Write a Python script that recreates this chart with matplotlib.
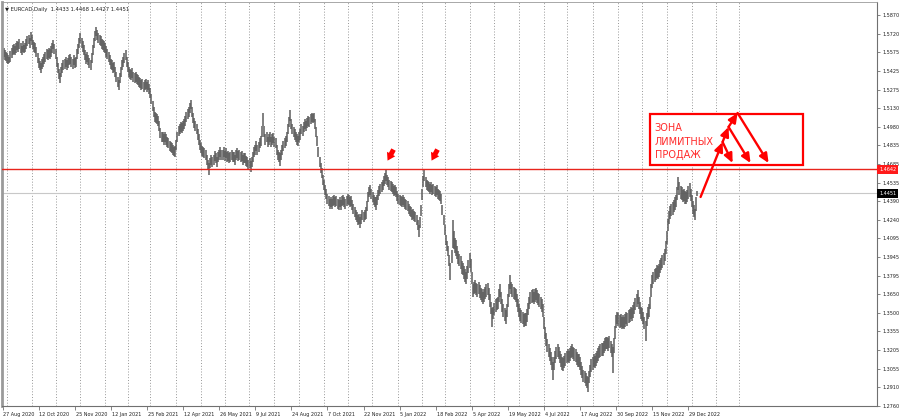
import numpy as np
import pandas as pd
import matplotlib
matplotlib.use("Agg")
import matplotlib.pyplot as plt
from matplotlib.patches import Rectangle
import matplotlib.transforms as mtransforms

# ---------------- data ----------------
symbol = "EURCAD,Daily"
last_ohlc = ["1.4433", "1.4468", "1.4427", "1.4451"]
start_date = "2020-08-27"
holidays = ["2020-12-25", "2021-01-01"]

# daily lows / highs in units of 0.0001 above 1.0000
lows_pips = [
5520,5535,5510,5505,5490,5480,5489,5500,5530,5555,
5560,5550,5570,5590,5580,5600,5570,5555,5580,5565,
5575,5600,5620,5640,5610,5660,5630,5600,5580,5570,
5540,5490,5450,5430,5409,5440,5460,5480,5500,5520,
5510,5530,5520,5540,5570,5600,5560,5520,5460,5410,
5360,5330,5380,5410,5430,5440,5460,5430,5450,5470,
5480,5460,5440,5470,5450,5460,5520,5560,5610,5650,
5610,5580,5550,5510,5480,5500,5470,5450,5433,5490,
5550,5610,5660,5700,5670,5650,5630,5620,5600,5590,
5580,5570,5540,5520,5500,5470,5440,5430,5410,5420,
5380,5340,5300,5274,5330,5380,5430,5460,5490,5510,
5460,5420,5380,5360,5350,5370,5340,5330,5340,5320,
5310,5300,5290,5270,5280,5260,5270,5280,5260,5270,
5240,5210,5160,5110,5060,5020,5010,5000,4990,4950,
4890,4860,4860,4840,4860,4840,4820,4810,4790,4780,
4770,4760,4745,4740,4800,4860,4910,4920,4940,4930,
4950,4960,4990,5020,5040,5060,5090,5120,5060,5010,
4970,4950,4920,4880,4840,4800,4770,4750,4740,4730,
4720,4680,4640,4598,4650,4680,4660,4680,4710,4690,
4660,4700,4720,4740,4720,4720,4740,4710,4730,4700,
4710,4690,4700,4720,4700,4700,4680,4720,4730,4710,
4720,4700,4710,4680,4690,4690,4670,4660,4640,4650,
4625,4660,4700,4740,4760,4790,4760,4780,4810,4830,
4900,4990,4900,4840,4860,4820,4840,4860,4820,4840,
4850,4820,4810,4760,4720,4700,4670,4720,4760,4790,
4810,4830,4860,4920,4980,5030,4960,4920,4900,4880,
4860,4840,4830,4860,4880,4920,4910,4940,4960,4950,
4970,4990,4980,5000,5020,5010,5020,4960,4900,4830,
4740,4660,4610,4570,4520,4480,4440,4410,4370,4350,
4330,4340,4330,4350,4360,4340,4350,4330,4320,4340,
4320,4350,4360,4340,4330,4350,4370,4360,4340,4350,
4320,4290,4260,4240,4220,4200,4210,4176,4210,4240,
4220,4240,4250,4310,4380,4420,4440,4410,4380,4360,
4340,4320,4360,4400,4430,4450,4460,4480,4510,4530,
4550,4520,4500,4480,4470,4460,4450,4430,4440,4420,
4390,4370,4360,4350,4340,4360,4340,4330,4320,4310,
4290,4270,4260,4240,4250,4230,4220,4200,4160,4104,
4180,4270,4400,4500,4550,4500,4480,4470,4460,4450,
4460,4440,4450,4430,4420,4440,4410,4400,4390,4370,
4280,4200,4120,4040,3990,3950,3870,3762,3900,4020,
4010,3980,3950,3930,3890,3870,3850,3810,3800,3770,
3750,3730,3770,3820,3860,3830,3730,3630,3650,3660,
3640,3630,3650,3620,3600,3590,3570,3590,3610,3630,
3640,3600,3550,3490,3390,3450,3480,3510,3520,3530,
3590,3630,3570,3510,3470,3440,3410,3470,3550,3630,
3690,3650,3630,3610,3600,3590,3550,3510,3470,3440,
3420,3410,3390,3400,3400,3430,3480,3530,3570,3580,
3590,3570,3590,3600,3580,3560,3550,3530,3510,3470,
3370,3290,3240,3190,3150,3120,3090,3050,2967,3050,
3100,3130,3150,3130,3100,3070,3050,3040,3060,3080,
3100,3110,3100,3120,3140,3150,3130,3120,3110,3090,
3070,3070,3050,3010,2980,2950,2940,2920,2900,2871,
2940,2990,3030,3050,3070,3060,3080,3100,3120,3140,
3150,3160,3160,3180,3200,3210,3210,3200,3220,3180,
3150,3020,3180,3290,3380,3410,3400,3380,3390,3370,
3380,3370,3390,3410,3400,3420,3430,3450,3440,3460,
3490,3520,3550,3570,3530,3490,3450,3440,3410,3370,
3280,3400,3450,3470,3530,3630,3700,3730,3750,3760,
3780,3770,3790,3820,3840,3860,3880,3910,3970,4050,
4150,4210,4250,4270,4280,4300,4320,4340,4400,4480,
4440,4410,4400,4380,4390,4370,4370,4380,4410,4420,
4390,4340,4290,4260,4240,4310,4427,
]
highs_pips = [
5600,5610,5590,5580,5565,5550,5540,5585,5610,5630,
5640,5625,5650,5660,5655,5680,5645,5625,5660,5635,
5645,5680,5700,5715,5690,5735,5710,5675,5655,5645,
5615,5570,5530,5505,5490,5520,5540,5560,5580,5600,
5590,5610,5600,5620,5650,5672,5640,5600,5540,5490,
5440,5410,5460,5490,5510,5520,5540,5510,5530,5550,
5560,5540,5520,5550,5530,5540,5600,5640,5690,5727,
5690,5660,5630,5590,5560,5580,5550,5530,5510,5570,
5630,5690,5740,5775,5750,5730,5710,5700,5680,5670,
5660,5650,5620,5600,5580,5550,5520,5510,5490,5500,
5460,5420,5380,5350,5410,5460,5510,5540,5570,5592,
5540,5500,5460,5440,5430,5450,5420,5410,5420,5400,
5390,5380,5370,5350,5360,5340,5350,5360,5340,5350,
5320,5290,5240,5190,5140,5100,5090,5080,5070,5030,
4970,4940,4940,4920,4940,4920,4900,4890,4870,4860,
4850,4840,4820,4830,4880,4940,4990,5000,5020,5010,
5030,5040,5070,5100,5120,5140,5170,5194,5140,5090,
5050,5030,5000,4960,4920,4880,4850,4830,4820,4810,
4800,4760,4720,4690,4730,4760,4740,4760,4790,4770,
4740,4780,4800,4820,4800,4800,4820,4790,4810,4780,
4790,4770,4780,4800,4780,4780,4760,4800,4810,4790,
4800,4780,4790,4760,4770,4770,4750,4740,4720,4730,
4710,4740,4780,4820,4840,4870,4840,4860,4890,4910,
4990,5091,4990,4920,4940,4900,4920,4940,4900,4920,
4930,4900,4890,4840,4800,4780,4770,4800,4840,4870,
4890,4910,4940,5000,5060,5115,5040,5000,4980,4960,
4940,4920,4910,4940,4960,5000,4990,5020,5040,5030,
5050,5070,5060,5080,5090,5085,5090,5040,4980,4910,
4820,4740,4690,4650,4600,4560,4520,4490,4450,4430,
4410,4420,4410,4430,4440,4420,4430,4410,4400,4420,
4400,4430,4440,4420,4410,4430,4450,4440,4420,4430,
4400,4370,4340,4320,4300,4280,4290,4260,4290,4320,
4300,4320,4340,4390,4460,4500,4520,4490,4460,4440,
4420,4420,4440,4480,4510,4530,4540,4560,4590,4610,
4637,4600,4580,4560,4550,4540,4530,4510,4520,4500,
4470,4450,4440,4430,4420,4440,4420,4410,4400,4390,
4370,4350,4340,4320,4330,4310,4300,4280,4240,4200,
4260,4360,4490,4590,4637,4580,4560,4550,4540,4530,
4540,4520,4530,4510,4500,4520,4490,4480,4470,4450,
4360,4280,4200,4120,4070,4030,3960,3900,4000,4240,
4150,4100,4080,4030,3990,3970,3950,3910,3900,3870,
3850,3830,3870,3920,3980,3930,3830,3730,3750,3760,
3740,3730,3750,3720,3700,3690,3670,3690,3710,3730,
3740,3700,3650,3590,3540,3550,3580,3610,3620,3630,
3690,3730,3670,3610,3570,3540,3520,3570,3650,3730,
3802,3750,3730,3710,3700,3690,3650,3610,3570,3540,
3520,3510,3490,3500,3500,3530,3580,3630,3670,3680,
3690,3670,3690,3700,3680,3660,3650,3630,3610,3570,
3470,3390,3340,3290,3250,3220,3190,3150,3110,3150,
3200,3230,3250,3230,3200,3170,3150,3140,3160,3180,
3200,3210,3200,3220,3240,3250,3230,3220,3210,3190,
3170,3170,3150,3110,3080,3050,3040,3020,3000,2990,
3040,3090,3130,3150,3170,3160,3180,3200,3220,3240,
3250,3260,3260,3280,3300,3310,3310,3300,3320,3280,
3250,3230,3300,3400,3480,3510,3500,3480,3490,3470,
3480,3470,3490,3510,3500,3520,3530,3550,3540,3560,
3590,3620,3650,3683,3630,3590,3550,3540,3510,3470,
3440,3500,3550,3570,3630,3730,3800,3830,3850,3860,
3880,3870,3890,3920,3940,3960,3980,4010,4070,4150,
4250,4310,4350,4370,4380,4400,4420,4440,4500,4582,
4540,4510,4500,4480,4490,4470,4460,4480,4510,4535,
4490,4440,4390,4360,4330,4420,4468,
]

x_tick_labels = ["27 Aug 2020", "12 Oct 2020", "25 Nov 2020", "12 Jan 2021",
                 "25 Feb 2021", "12 Apr 2021", "26 May 2021", "9 Jul 2021",
                 "24 Aug 2021", "7 Oct 2021", "22 Nov 2021", "5 Jan 2022",
                 "18 Feb 2022", "5 Apr 2022", "19 May 2022", "4 Jul 2022",
                 "17 Aug 2022", "30 Sep 2022", "15 Nov 2022", "29 Dec 2022"]
y_tick_labels = ["1.5870", "1.5720", "1.5575", "1.5425", "1.5275", "1.5130",
                 "1.4980", "1.4835", "1.4685", "1.4535", "1.4390", "1.4240",
                 "1.4095", "1.3945", "1.3795", "1.3650", "1.3500", "1.3355",
                 "1.3205", "1.3055", "1.2910", "1.2760"]

resistance = 1.4642
last_price = 1.4451
zone_text = "ЗОНА\nЛИМИТНЫХ\nПРОДАЖ"
zone_bars = (573.6, 709.2)
zone_prices = (1.4677, 1.5083)
# up-swing path and the three projected drops (bar index, price)
swing_path = [(618.8, 1.4423), (638.3, 1.4860), (643.6, 1.4980), (651.6, 1.5091)]
drop_targets = [(647.2, 1.4693), (663.1, 1.4693), (679.1, 1.4693)]
# small markers pointing at the two rejected highs (tail, head)
peak_markers = [((346.6, 1.4800), (341.3, 1.4712)), ((385.6, 1.4800), (380.3, 1.4712))]

# ---------------- derived ----------------
lows = 1.0 + np.array(lows_pips) / 10000.0
highs = 1.0 + np.array(highs_pips) / 10000.0
n = len(lows)
idx = np.arange(n)

all_days = pd.bdate_range(start_date, periods=820)
all_days = all_days[~all_days.isin(pd.to_datetime(holidays))][:660]
month_starts = [i for i in range(1, len(all_days)) if all_days[i].month != all_days[i - 1].month]

# ---------------- figure ----------------
fig = plt.figure(figsize=(9, 4.2), dpi=100)
fig.patch.set_facecolor("white")
ax = fig.add_axes([2 / 900, 14 / 420, 875 / 900, 404 / 420])
ax.set_facecolor("white")

ax.set_xlim(-0.5, 775.2)
ax.set_ylim(1.2760, 1.5974)

for m in month_starts:
    ax.axvline(m + 0.8, color="#8a8a8a", lw=0.6, ls=(0, (1.2, 2.2)), zorder=1)

ax.axhline(last_price, color="#c8c8c8", lw=0.8, zorder=1.5)
ax.vlines(idx, lows, highs, color="#5c5c5c", lw=1.1, zorder=2)
ax.axhline(resistance, color="#e8241c", lw=1.0, zorder=3)

# zone box
ax.add_patch(Rectangle((zone_bars[0], zone_prices[0]), zone_bars[1] - zone_bars[0],
                       zone_prices[1] - zone_prices[0], fill=True, facecolor="white",
                       edgecolor="#ff0000", lw=1.6, zorder=4))
ax.text(zone_bars[0] + 4.5, (zone_prices[0] + zone_prices[1]) / 2 - 0.0018, zone_text,
        color="#ff2a2a", fontsize=7, ha="left", va="center", linespacing=1.42, zorder=5)

arrow_kw = dict(arrowstyle="-|>,head_length=0.55,head_width=0.25", color="#ff0000",
                lw=1.7, shrinkA=0, shrinkB=0, mutation_scale=10)
for (a, b) in zip(swing_path[:-1], swing_path[1:]):
    ax.annotate("", xy=b, xytext=a, arrowprops=arrow_kw, zorder=6)
for top, tgt in zip(swing_path[1:], drop_targets):
    ax.annotate("", xy=tgt, xytext=top, arrowprops=arrow_kw, zorder=6)
for tail, head in peak_markers:
    ax.annotate("", xy=head, xytext=tail,
                arrowprops=dict(arrowstyle="simple,head_length=0.6,head_width=0.75,tail_width=0.4",
                                color="#ff0000", lw=0, shrinkA=0, shrinkB=0, mutation_scale=9),
                zorder=6)

# axes styling
for s in ["top", "left"]:
    ax.spines[s].set_color("#9a9a9a")
ax.spines["left"].set_linewidth(2.0)
ax.spines["top"].set_linewidth(0.6)
for s in ["right", "bottom"]:
    ax.spines[s].set_color("#707070")
    ax.spines[s].set_linewidth(0.8)

tick_fs = 3.5
ax.yaxis.tick_right()
ax.set_yticks([float(v) for v in y_tick_labels])
ax.set_yticklabels(y_tick_labels)
ax.tick_params(axis="y", which="both", length=2.5, width=0.6, color="#707070",
               labelsize=tick_fs, pad=1.2, labelcolor="#202020", left=False, right=True)

ax.set_xticks(np.arange(len(x_tick_labels)) * 32)
ax.set_xticklabels(x_tick_labels)
ax.tick_params(axis="x", length=3, width=0.6, color="#707070", labelsize=tick_fs,
               pad=1.5, labelcolor="#202020")
for lab in ax.get_xticklabels():
    lab.set_ha("left")
    lab.set_transform(lab.get_transform() + mtransforms.ScaledTranslation(0.8 / 100, 0, fig.dpi_scale_trans))

# right-side price labels
trans = mtransforms.blended_transform_factory(ax.transAxes, ax.transData)
ax.text(1.0025, resistance, f"{resistance:.4f}", transform=trans, color="white",
        fontsize=tick_fs, ha="left", va="center", zorder=10, clip_on=False,
        bbox=dict(boxstyle="square,pad=0.35", facecolor="#ff1a1a", edgecolor="none"))
ax.text(1.0025, last_price, f"{last_price:.4f}", transform=trans, color="white",
        fontsize=tick_fs, ha="left", va="center", zorder=10, clip_on=False,
        bbox=dict(boxstyle="square,pad=0.35", facecolor="#000000", edgecolor="none"))

# header
ax.text(0.003, 0.988, "\u25BC " + symbol + "  " + " ".join(last_ohlc), transform=ax.transAxes,
        fontsize=3.8, color="#202020", ha="left", va="top")

fig.savefig("out.png", dpi=100, facecolor="white")
